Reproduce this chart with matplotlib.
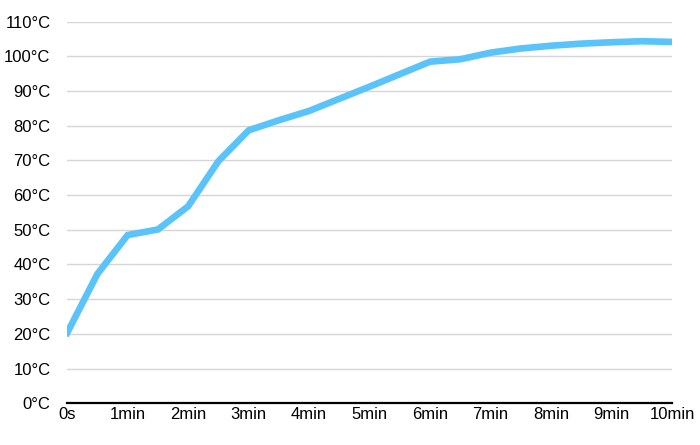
import matplotlib.pyplot as plt

# temperature readings every 30 s
minutes = [0, 0.5, 1, 1.5, 2, 2.5, 3, 3.5, 4, 4.5, 5, 5.5, 6, 6.5, 7, 7.5, 8, 8.5, 9, 9.5, 10]
temps = [20.3, 37.3, 48.5, 50.1, 56.8, 69.8, 78.7, 81.6, 84.3, 87.8, 91.3, 94.9, 98.5, 99.2,
         101.1, 102.3, 103.1, 103.7, 104.1, 104.4, 104.2]

x_ticks = list(range(11))
x_labels = ["0s"] + [f"{m}min" for m in range(1, 11)]
y_ticks = list(range(0, 111, 10))
y_labels = [f"{t}°C" for t in y_ticks]

plt.rcParams['font.family'] = ['Liberation Sans', 'DejaVu Sans']

fig = plt.figure(figsize=(7, 4.45), dpi=100)
ax = fig.add_axes([0.096, 0.094, 0.864, 0.857])

ax.plot(minutes, temps, color="#5AC4FA", linewidth=4.8, solid_joinstyle="miter", zorder=3)

ax.set_xlim(0, 10)
ax.set_ylim(0, 110)
ax.set_xticks(x_ticks)
ax.set_xticklabels(x_labels, fontsize=12)
ax.set_yticks(y_ticks)
ax.set_yticklabels(y_labels, fontsize=12)
ax.tick_params(length=0)
ax.tick_params(axis="y", pad=12)
ax.tick_params(axis="x", pad=3)

ax.grid(axis="y", color="#d6d6d6", linewidth=1)
ax.set_axisbelow(True)
for side in ["top", "right", "left"]:
    ax.spines[side].set_visible(False)
ax.spines["bottom"].set_color("black")
ax.spines["bottom"].set_linewidth(1.6)
ax.spines["bottom"].set_zorder(4)

fig.savefig("out.png", dpi=100)
